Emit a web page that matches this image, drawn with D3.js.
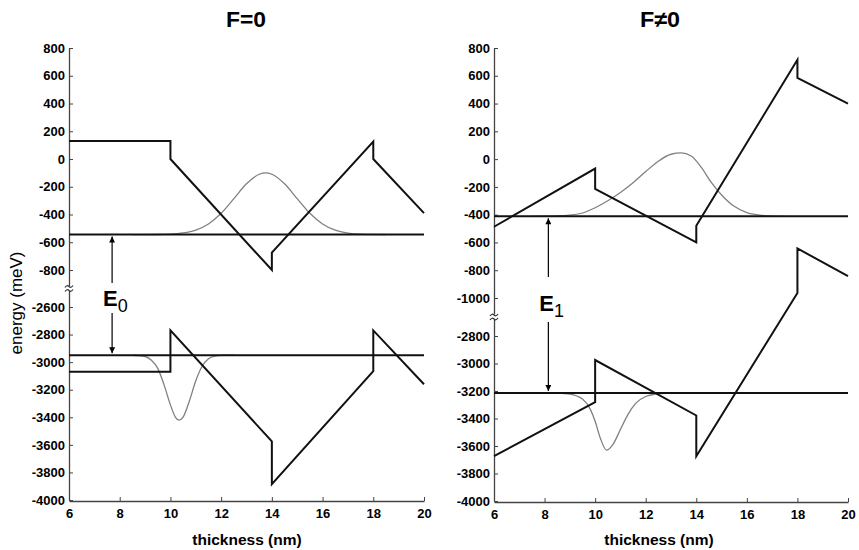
<!DOCTYPE html>
<html><head><meta charset="utf-8">
<script src="https://cdn.jsdelivr.net/npm/d3@7"></script>
<style>body{margin:0;background:#fff}svg{display:block}</style>
</head><body>
<svg id="c" width="859" height="550"></svg>
<script>
// ---------- data ----------
const xTicks = [6, 8, 10, 12, 14, 16, 18, 20];
const leftYTicks = [800, 600, 400, 200, 0, -200, -400, -600, -800, -2600, -2800, -3000, -3200, -3400, -3600, -3800, -4000];
const rightYTicks = [800, 600, 400, 200, 0, -200, -400, -600, -800, -1000, -2800, -3000, -3200, -3400, -3600, -3800, -4000];
const panelTitles = ["F=0", "F\u22600"];
const gapLabels = ["0", "1"];

// F=0 panel
const leftCB = [[6,130],[10,130],[10,0],[14,-800],[14,-675],[18,125],[18,0],[20,-390]];
const leftVB = [[6,-3070],[10,-3070],[10,-2770],[14,-3575],[14,-3885],[18,-3065],[18,-2770],[20,-3160]];
const leftELevel = -545;
const leftHLevel = -2950;
const leftEWave = [[8.5,-545],[9.5,-544],[10,-542],[10.5,-533],[11,-512],[11.5,-468],[12,-391],[12.5,-286],[13,-179],[13.5,-110],[13.75,-100],[14,-110],[14.5,-179],[15,-286],[15.5,-391],[16,-468],[16.5,-513],[17,-534],[17.5,-542],[18.5,-545]];
const leftHWave = [[8.5,-2950],[9,-2959],[9.25,-2986],[9.5,-3045],[9.75,-3165],[10,-3310],[10.2,-3400],[10.34,-3420],[10.5,-3398],[10.75,-3280],[11,-3135],[11.25,-3030],[11.5,-2975],[11.75,-2956],[12,-2951],[12.5,-2950]];

// F≠0 panel
const rightCB = [[6,-487],[10,-68],[10,-215],[14,-600],[14,-480],[18,715],[18,585],[20,400]];
const rightVB = [[6,-3674],[10,-3281],[10,-2975],[14,-3378],[14,-3674],[18,-964],[18,-643],[20,-843]];
const rightELevel = -412;
const rightHLevel = -3215;
const rightEWave = [[7.5,-412],[8.5,-409],[9,-403],[9.5,-388],[10,-350],[10.5,-300],[11,-240],[11.5,-170],[12,-90],[12.5,-15],[13,35],[13.4,45],[13.8,22],[14.2,-60],[14.6,-170],[15,-258],[15.5,-340],[16,-385],[16.5,-403],[17,-410],[17.5,-412]];
const rightHWave = [[8.5,-3215],[9,-3222],[9.5,-3258],[9.8,-3330],[10,-3420],[10.2,-3540],[10.45,-3630],[10.7,-3590],[11,-3480],[11.3,-3370],[11.6,-3290],[12,-3240],[12.5,-3220],[13,-3215]];

// ---------- drawing ----------
const svg = d3.select("#c");
const FONT = "Arial, 'Liberation Sans', sans-serif";
const plain = d => String(d);

const defs = svg.append("defs");
defs.append("marker").attr("id","ah")
  .attr("viewBox","0 0 10 10").attr("refX",10).attr("refY",5)
  .attr("markerUnits","userSpaceOnUse").attr("markerWidth",7).attr("markerHeight",6)
  .attr("orient","auto")
  .append("path").attr("d","M0,0L10,5L0,10Z").attr("fill","#000");

function panel(cfg){
  const x = d3.scaleLinear().domain([6,20]).range(cfg.xr);
  const y = d3.scaleLinear().domain(cfg.yd).range(cfg.yr);
  const g = svg.append("g");
  const bottom = cfg.yr[0];

  const ya = g.append("g").attr("transform",`translate(${cfg.xr[0]},0)`)
    .call(d3.axisLeft(y).tickValues(cfg.yTicks).tickFormat(plain).tickSizeInner(-4).tickSizeOuter(0).tickPadding(4));
  const xa = g.append("g").attr("transform",`translate(0,${bottom+1})`)
    .call(d3.axisBottom(x).tickValues(xTicks).tickFormat(plain).tickSizeInner(-4).tickSizeOuter(0).tickPadding(8));
  [ya,xa].forEach(a=>{
    a.select(".domain").attr("stroke","#444").attr("stroke-width",1.3);
    a.selectAll(".tick line").attr("stroke","#444");
    a.selectAll(".tick text").attr("fill","#000").style("font-family",FONT).style("font-size","13px").style("font-weight","bold");
  });

  // axis break
  const by = (y(cfg.breakLo)+y(cfg.breakHi))/2;
  const bx = cfg.xr[0];
  g.append("rect").attr("x",bx-5).attr("y",by-2.5).attr("width",10).attr("height",5).attr("fill","#fff");
  [-2,2].forEach(o=>{
    g.append("path").attr("d",`M${bx-4},${by+o+1}q2,-3 4,-1t4,-1`).attr("fill","none").attr("stroke","#333").attr("stroke-width",1.2);
  });

  const lin = d3.line().x(d=>x(d[0])).y(d=>y(d[1]));
  const smooth = d3.line().x(d=>x(d[0])).y(d=>y(d[1])).curve(d3.curveMonotoneX);

  [cfg.eWave, cfg.hWave].forEach(w=>{
    g.append("path").datum(w).attr("d",smooth).attr("fill","none").attr("stroke","#808080").attr("stroke-width",1.3);
  });
  [cfg.eLevel, cfg.hLevel].forEach(v=>{
    g.append("path").datum([[6,v],[20,v]]).attr("d",lin).attr("fill","none").attr("stroke","#111").attr("stroke-width",2);
  });
  [cfg.cb, cfg.vb].forEach(b=>{
    g.append("path").datum(b).attr("d",lin).attr("fill","none").attr("stroke","#111").attr("stroke-width",2).attr("stroke-linejoin","miter");
  });

  const ax = x(cfg.arrowX);
  const yTop = y(cfg.eLevel), yBot = y(cfg.hLevel);
  g.append("line").attr("x1",ax).attr("x2",ax).attr("y1",cfg.gapTop).attr("y2",yTop+2)
    .attr("stroke","#000").attr("stroke-width",1.2).attr("marker-end","url(#ah)");
  g.append("line").attr("x1",ax).attr("x2",ax).attr("y1",cfg.gapBot).attr("y2",yBot-2)
    .attr("stroke","#000").attr("stroke-width",1.2).attr("marker-end","url(#ah)");
  const lbl = g.append("text").attr("x",ax-9).attr("y",cfg.labelY)
    .style("font-family",FONT).style("font-size","22px").style("font-weight","bold").attr("fill","#000");
  lbl.append("tspan").text("E");
  lbl.append("tspan").attr("dy",6).style("font-size","18px").style("font-weight","normal").text(cfg.sub);

  g.append("text").attr("x",cfg.titleX).attr("y",27).attr("text-anchor","middle")
    .attr("textLength",40).attr("lengthAdjust","spacingAndGlyphs")
    .style("font-family",FONT).style("font-size","22px").style("font-weight","bold").text(cfg.title);
  g.append("text").attr("x",cfg.xTitleX).attr("y",545).attr("text-anchor","middle")
    .style("font-family",FONT).style("font-size","15.5px").style("font-weight","bold").text("thickness (nm)");
}

panel({
  xr:[69,424], yd:[-4000,-2600,-800,800], yr:[500,307,270,48], yTicks:leftYTicks,
  breakLo:-2600, breakHi:-800,
  cb:leftCB, vb:leftVB, eLevel:leftELevel, hLevel:leftHLevel, eWave:leftEWave, hWave:leftHWave,
  arrowX:7.7, gapTop:283, gapBot:313, labelY:306, sub:gapLabels[0],
  title:panelTitles[0], titleX:246, xTitleX:247
});
panel({
  xr:[494,848], yd:[-4000,-2800,-1000,800], yr:[501,336,298,48], yTicks:rightYTicks,
  breakLo:-2800, breakHi:-1000,
  cb:rightCB, vb:rightVB, eLevel:rightELevel, hLevel:rightHLevel, eWave:rightEWave, hWave:rightHWave,
  arrowX:8.15, gapTop:277, gapBot:322, labelY:311, sub:gapLabels[1],
  title:panelTitles[1], titleX:660, xTitleX:659
});

svg.append("text").attr("transform","translate(22,303) rotate(-90)").attr("text-anchor","middle")
  .style("font-family",FONT).style("font-size","17px").attr("fill","#000").text("energy (meV)");
</script>
</body></html>
